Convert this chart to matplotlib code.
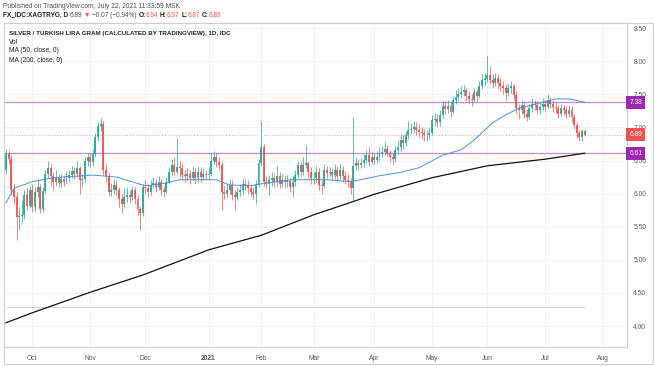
# -*- coding: utf-8 -*-
import matplotlib
matplotlib.use('Agg')
import matplotlib.pyplot as plt
from matplotlib.lines import Line2D
import pandas as pd

plt.rcParams['font.family'] = ['Liberation Sans', 'DejaVu Sans']

# daily bars, XAG/TRY gram, 2020-09-17 .. 2021-07-22 (weekdays)
start_date = '2020-09-17'
first_open = 6.35
closes = [
    6.60, 6.52, 6.05, 5.95, 5.65, 5.66, 5.68, 5.98, 5.82, 6.05,  # sep
    5.80, 6.02, 6.10, 5.76, 6.04, 6.30, 6.38, 6.26, 6.18, 6.24, 6.16,
    6.22, 6.18, 6.24, 6.28, 6.34, 6.30, 6.38, 6.20, 6.22, 6.50, 6.55,  # oct
    6.48, 6.60, 6.86, 7.02, 7.05, 6.36, 6.26, 6.02, 6.05, 6.13, 6.05,
    5.92, 5.85, 5.95, 5.98, 5.95, 6.05, 5.92, 5.76, 5.70, 6.10,  # nov
    6.08, 6.02, 6.13, 6.16, 6.10, 6.18, 6.05, 6.02, 6.18, 6.33, 6.43, 6.33,
    6.40, 6.38, 6.28, 6.26, 6.30, 6.24, 6.33, 6.23, 6.33, 6.25, 6.30,  # dec
    6.28, 6.30, 6.50, 6.55, 6.48, 6.43, 6.03, 6.00, 6.05, 6.13, 5.98,
    5.95, 6.03, 6.05, 6.15, 6.13, 6.08, 6.03, 6.00, 6.13, 6.46,  # jan
    6.71, 6.18, 6.15, 6.20, 6.23, 6.18, 6.26, 6.15, 6.20, 6.18,
    6.19, 6.10, 6.18, 6.28, 6.43, 6.33, 6.43, 6.46, 6.33, 6.23,  # feb
    6.23, 6.33, 6.13, 6.11, 6.36, 6.31, 6.33, 6.28, 6.36, 6.26, 6.36, 6.26,
    6.21, 6.18, 6.08, 6.41, 6.46, 6.43, 6.46, 6.51, 6.58, 6.48, 6.56,  # mar
    6.51, 6.56, 6.61, 6.63, 6.68, 6.61, 6.56, 6.53, 6.66, 6.71, 6.81,
    6.76, 6.88, 6.96, 6.98, 7.01, 6.96, 6.93, 6.91, 6.88, 6.88, 6.91,  # apr
    7.11, 7.13, 7.08, 7.18, 7.33, 7.28, 7.33, 7.23, 7.41, 7.46, 7.51,
    7.53, 7.56, 7.48, 7.43, 7.41, 7.53, 7.48, 7.63, 7.71, 7.73,  # may
    7.79, 7.72, 7.67, 7.74, 7.67, 7.62, 7.59, 7.52, 7.59, 7.62, 7.49,
    7.29, 7.26, 7.34, 7.21, 7.16, 7.29, 7.36, 7.34, 7.26, 7.31, 7.36,  # jun
    7.31, 7.41, 7.36, 7.31, 7.29, 7.21, 7.29, 7.26, 7.21, 7.26, 7.16,
    7.04, 6.91, 6.86, 6.94, 6.89,  # jul
]
highs = [
    6.68, 6.66, 6.58, 6.15, 6.02, 5.80, 5.90, 6.06, 6.10, 6.12,
    6.15, 6.10, 6.22, 6.14, 6.10, 6.36, 6.50, 6.45, 6.32, 6.36, 6.30,
    6.30, 6.28, 6.34, 6.36, 6.42, 6.40, 6.50, 6.42, 6.30, 6.56, 6.62,
    6.62, 6.68, 6.92, 7.08, 7.14, 7.10, 6.45, 6.32, 6.16, 6.22, 6.20,
    6.10, 6.00, 6.08, 6.10, 6.06, 6.12, 6.10, 5.98, 5.82, 6.15,
    6.20, 6.14, 6.20, 6.25, 6.22, 6.26, 6.22, 6.12, 6.25, 6.40, 6.52, 6.55,
    6.84, 6.50, 6.44, 6.36, 6.38, 6.36, 6.40, 6.38, 6.42, 6.40, 6.38,
    6.36, 6.40, 6.62, 6.64, 6.62, 6.55, 6.48, 6.12, 6.15, 6.22, 6.20,
    6.05, 6.10, 6.15, 6.24, 6.22, 6.20, 6.14, 6.10, 6.20, 6.52,
    7.09, 6.75, 6.26, 6.28, 6.32, 6.30, 6.42, 6.32, 6.30, 6.28,
    6.28, 6.24, 6.26, 6.36, 6.50, 6.48, 6.55, 6.73, 6.50, 6.40,
    6.32, 6.42, 6.38, 6.20, 6.44, 6.42, 6.40, 6.38, 6.44, 6.42, 6.44, 6.42,
    6.34, 6.30, 6.24, 7.16, 6.55, 6.52, 6.54, 6.60, 6.66, 6.70, 6.64,
    6.62, 6.64, 6.70, 6.72, 6.78, 6.74, 6.66, 6.62, 6.72, 6.80, 6.90,
    6.88, 6.95, 7.10, 7.06, 7.10, 7.08, 7.05, 7.00, 6.98, 6.96, 7.00,
    7.18, 7.22, 7.20, 7.26, 7.42, 7.40, 7.42, 7.38, 7.48, 7.56, 7.60,
    7.62, 7.64, 7.60, 7.55, 7.50, 7.60, 7.58, 7.70, 7.80, 7.82,
    8.08, 7.92, 7.80, 7.82, 7.80, 7.74, 7.70, 7.66, 7.66, 7.70, 7.66,
    7.55, 7.36, 7.42, 7.40, 7.28, 7.36, 7.44, 7.42, 7.40, 7.38, 7.44,
    7.42, 7.50, 7.46, 7.42, 7.38, 7.34, 7.36, 7.34, 7.32, 7.34, 7.32,
    7.20, 7.08, 6.96, 6.98, 6.97,
]
lows = [
    6.30, 6.45, 5.98, 5.85, 5.30, 5.45, 5.55, 5.62, 5.75, 5.78,
    5.72, 5.74, 5.95, 5.70, 5.72, 6.00, 6.25, 6.12, 6.05, 6.12, 6.10,
    6.10, 6.12, 6.14, 6.18, 6.24, 6.22, 6.25, 6.00, 6.10, 6.18, 6.42,
    6.40, 6.42, 6.55, 6.80, 6.95, 6.28, 6.18, 5.96, 5.96, 6.00, 5.98,
    5.80, 5.70, 5.80, 5.88, 5.86, 5.90, 5.85, 5.68, 5.45, 5.66,
    6.00, 5.95, 5.98, 6.08, 6.02, 6.05, 5.98, 5.95, 6.00, 6.14, 6.28, 6.26,
    6.28, 6.25, 6.20, 6.18, 6.20, 6.15, 6.20, 6.16, 6.18, 6.18, 6.20,
    6.22, 6.22, 6.26, 6.45, 6.40, 6.36, 5.75, 5.92, 5.95, 6.00, 5.90,
    5.75, 5.90, 5.96, 6.00, 6.05, 6.00, 5.96, 5.92, 5.85, 6.10,
    6.42, 6.12, 6.08, 5.98, 6.12, 6.10, 6.12, 6.08, 6.10, 6.10,
    6.10, 6.02, 5.95, 6.12, 6.24, 6.26, 6.28, 6.38, 6.25, 6.15,
    6.15, 6.18, 6.05, 6.00, 6.08, 6.24, 6.25, 6.20, 6.22, 6.18, 6.20, 6.18,
    6.14, 6.10, 6.00, 5.90, 6.35, 6.36, 6.38, 6.40, 6.46, 6.42, 6.44,
    6.44, 6.46, 6.50, 6.55, 6.58, 6.55, 6.50, 6.45, 6.48, 6.60, 6.65,
    6.68, 6.72, 6.82, 6.90, 6.92, 6.88, 6.85, 6.82, 6.80, 6.80, 6.82,
    6.88, 7.04, 7.00, 7.02, 7.14, 7.20, 7.22, 7.15, 7.20, 7.36, 7.42,
    7.45, 7.48, 7.40, 7.35, 7.32, 7.38, 7.40, 7.44, 7.58, 7.64,
    7.68, 7.65, 7.60, 7.62, 7.58, 7.55, 7.50, 7.42, 7.48, 7.52, 7.42,
    7.20, 7.12, 7.20, 7.14, 7.10, 7.12, 7.24, 7.26, 7.20, 7.20, 7.26,
    7.24, 7.28, 7.30, 7.24, 7.22, 7.14, 7.16, 7.18, 7.14, 7.16, 7.08,
    6.98, 6.84, 6.80, 6.80, 6.87,
]

# moving averages
ma50_dates = ['2020-09-17', '2020-09-22', '2020-10-01', '2020-10-13', '2020-11-03',
              '2020-11-16', '2020-11-30', '2020-12-02', '2020-12-11', '2020-12-18',
              '2021-01-07', '2021-01-14', '2021-01-26', '2021-02-03', '2021-02-17',
              '2021-03-08', '2021-03-19', '2021-03-25', '2021-04-05', '2021-04-15',
              '2021-04-26', '2021-05-07', '2021-05-18', '2021-05-25', '2021-06-03',
              '2021-06-10', '2021-06-17', '2021-06-29', '2021-07-07', '2021-07-14',
              '2021-07-22']
ma50_vals = [5.86, 6.08, 6.18, 6.24, 6.28, 6.25, 6.13, 6.12, 6.16, 6.21,
             6.21, 6.13, 6.12, 6.16, 6.21, 6.21, 6.18, 6.21, 6.27, 6.32,
             6.39, 6.58, 6.66, 6.81, 7.07, 7.19, 7.29, 7.37, 7.43, 7.43, 7.38]
ma200_dates = ['2020-09-17', '2020-10-01', '2020-11-02', '2020-11-30', '2021-01-04',
               '2021-02-01', '2021-03-01', '2021-03-22', '2021-04-01', '2021-05-03',
               '2021-06-01', '2021-07-01', '2021-07-22']
ma200_vals = [4.05, 4.20, 4.51, 4.77, 5.15, 5.37, 5.68, 5.88, 5.99, 6.24, 6.42, 6.52, 6.61]

month_starts = ['2020-10-01', '2020-11-02', '2020-12-01', '2021-01-04', '2021-02-01',
                '2021-03-01', '2021-04-01', '2021-05-03', '2021-06-01', '2021-07-01',
                '2021-08-02']
month_labels = ['Oct', 'Nov', 'Dec', '2021', 'Feb', 'Mar', 'Apr', 'May', 'Jun', 'Jul', 'Aug']
price_ticks = [4.0, 4.5, 5.0, 5.5, 6.0, 6.5, 7.0, 7.5, 8.0, 8.5]

levels = [7.38, 6.61]
last_close = 6.89
vol_base = 4.29

dates = pd.bdate_range(start_date, '2021-08-31')
bar_no = {d: i for i, d in enumerate(dates)}


def bar_of(d):
    return bar_no[pd.Timestamp(d)]


n = len(closes)
opens = [first_open] + closes[:-1]
up, dn = '#26a69a', '#ef5350'
cols = [up if c >= o else dn for o, c in zip(opens, closes)]

W, H = 654, 366
fig = plt.figure(figsize=(W / 100, H / 100), dpi=100)
ax = fig.add_axes([4 / W, 1 - 347 / H, 623 / W, 324 / H])

xs = list(range(n))
ax.vlines(xs, lows, highs, colors=cols, lw=0.6, alpha=0.85, zorder=3)
ax.bar(xs, [max(abs(c - o), 0.012) for o, c in zip(opens, closes)],
       bottom=[min(o, c) for o, c in zip(opens, closes)],
       width=0.75, color=cols, alpha=0.9, lw=0, zorder=4)

ax.plot([bar_of(d) for d in ma50_dates], ma50_vals, color='#4a90d9', lw=0.7, zorder=5)
ax.plot([bar_of(d) for d in ma200_dates], ma200_vals, color='#111111', lw=0.9, zorder=5)

for lv in levels:
    ax.axhline(lv, color='#9c27b0', lw=0.9, alpha=0.55, zorder=2)
ax.axhline(last_close, color=dn, lw=0.7, ls=(0, (1, 2)), alpha=0.6, zorder=2)
ax.hlines(vol_base, 0, n - 1, color='#c8c8c8', lw=0.6, zorder=2)

ax.set_xlim(-0.76, 236.1)
ax.set_ylim(3.683, 8.577)

ax.set_yticks(price_ticks)
ax.set_yticklabels([f'{v:.2f}' for v in price_ticks])
ax.yaxis.tick_right()
ax.tick_params(axis='y', length=0, pad=4.5, labelsize=4.8, colors='#555555')

ax.set_xticks([bar_of(d) for d in month_starts])
ax.set_xticklabels(month_labels)
ax.tick_params(axis='x', length=0, pad=6, labelsize=4.8, colors='#555555')
for lab in ax.get_xticklabels():
    if lab.get_text() == '2021':
        lab.set_fontweight('bold')

ax.grid(True, color='#eef0f4', lw=0.6, zorder=0)
for sp in ax.spines.values():
    sp.set_color('#cfcfcf')
    sp.set_linewidth(0.8)

# price labels on the right scale
for val, fc in [(levels[0], '#9c27b0'), (last_close, dn), (levels[1], '#9c27b0')]:
    ax.text(1.004, val, f'{val:.2f}', transform=ax.get_yaxis_transform(),
            ha='left', va='center', color='white', fontsize=4.8, zorder=10,
            bbox=dict(boxstyle='square,pad=0.45', fc=fc, ec='none'), clip_on=False)

# outer frame
fig.add_artist(Line2D([4 / W, 4 / W], [1 - 364 / H, 1 - 23 / H], color='#cfcfcf', lw=0.8))
fig.add_artist(Line2D([4 / W, 653 / W], [1 - 364 / H, 1 - 364 / H], color='#cfcfcf', lw=0.8))
fig.add_artist(Line2D([4 / W, 653 / W], [1 - 23 / H, 1 - 23 / H], color='#cfcfcf', lw=0.8))
fig.add_artist(Line2D([653 / W, 653 / W], [1 - 364 / H, 1 - 23 / H], color='#cfcfcf', lw=0.8))

renderer = fig.canvas.get_renderer()


def write_row(x_px, y_px, parts, size):
    x = x_px
    for s, col, wt, gap in parts:
        t = fig.text(x / W, 1 - y_px / H, s, color=col, fontweight=wt,
                     fontsize=size, va='center', ha='left')
        x += t.get_window_extent(renderer).width + gap


fig.text(3 / W, 1 - 6.5 / H, 'Published on TradingView.com, July 22, 2021 11:33:59 MSK',
         fontsize=4.8, color='#505050', va='center', ha='left')
write_row(3, 15.5, [
    ('FX_IDC:XAGTRYG, D', '#222222', 'bold', 2),
    ('6.89', '#505050', 'normal', 1.5),
    ('▼', dn, 'normal', 1.5),
    ('−0.07 (−0.94%)', '#505050', 'normal', 2),
    ('O:', '#222222', 'bold', 0), ('6.94', dn, 'normal', 2),
    ('H:', '#222222', 'bold', 0), ('6.97', dn, 'normal', 2),
    ('L:', '#222222', 'bold', 0), ('6.87', dn, 'normal', 2),
    ('C:', '#222222', 'bold', 0), ('6.89', dn, 'normal', 0),
], 4.7)

legend_rows = ['SILVER / TURKISH LIRA GRAM (CALCULATED BY TRADINGVIEW), 1D, IDC',
               'Vol', 'MA (50, close, 0)', 'MA (200, close, 0)']
for k, s in enumerate(legend_rows):
    fig.text(9 / W, 1 - (33 + 9 * k) / H, s, fontsize=4.5 if k == 0 else 4.8,
             color='#222222', fontweight='bold' if k == 0 else 'normal',
             va='center', ha='left')

fig.savefig('out.png', dpi=100)
